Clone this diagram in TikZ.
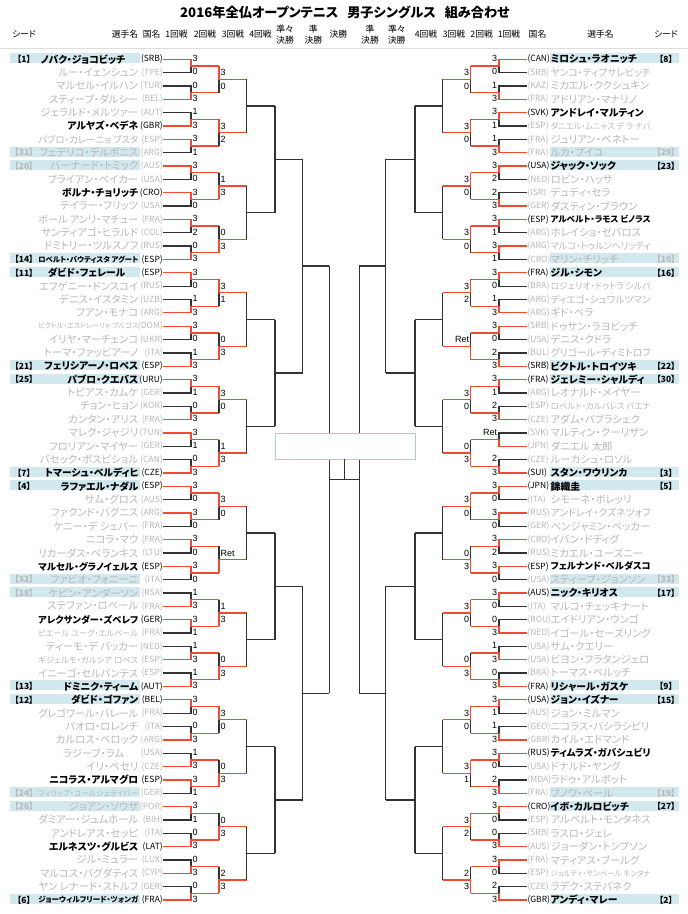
\documentclass[tikz,border=0pt]{standalone}
\usepackage{fontspec}
\usepackage{graphicx}
\setmainfont{Noto Sans CJK JP}[RawFeature=+palt]
\newfontfamily\numfont{Liberation Sans}
\definecolor{winc}{HTML}{F04B30}
\definecolor{losec}{HTML}{333333}
\definecolor{grayt}{HTML}{B7B7B7}
\definecolor{seedbg}{HTML}{D2E8EF}
\definecolor{rectc}{HTML}{A8CBEA}
\definecolor{sepc}{HTML}{DDDDDD}
\newsavebox\nmbox
\newcommand\fitname[1]{\sbox\nmbox{#1}\ifdim\wd\nmbox>100pt\resizebox{100pt}{!}{\usebox\nmbox}\else\usebox\nmbox\fi}
\tikzset{
  win/.style={draw=winc, line width=1.3pt},
  lose/.style={draw=losec, line width=1.3pt},
  nm/.style={inner sep=0pt},
  nmb/.style={text=black, font=\fontsize{9.8}{11}\selectfont\bfseries},
  nmg/.style={text=grayt, font=\fontsize{10.4}{11}\selectfont},
  ccode/.style={inner sep=0pt, font=\fontsize{8.5}{9}\selectfont},
  ccb/.style={text=black},
  ccg/.style={text=grayt},
  seedt/.style={inner sep=0pt, font=\fontsize{8.5}{9}\selectfont\bfseries},
  scr/.style={inner sep=0pt, font=\numfont\fontsize{9}{10}\selectfont},
  hdr/.style={inner sep=0pt, font=\fontsize{8.8}{10}\selectfont},
  hdrtwo/.style={inner sep=0pt, align=center, font=\fontsize{8.8}{11}\selectfont},
}
\newcommand\Yr[1]{\pgfmathsetmacro\yy{59.3+13.344*(#1)}}
\newcommand\Lrow[6]{%
  \Yr{#1}%
  \if\relax\detokenize{#2}\relax\else
    \fill[seedbg] (10,\yy-6) rectangle (140,\yy+4);
    \node[seedt,cc#6] (L#1d) at (24,\yy) {#2};
  \fi
  \node[nm,nm#6,anchor=east] (L#1n) at (138.5,\yy) {\fitname{#3}};
  \node[ccode,cc#6,anchor=east] (L#1c) at (163,\yy) {(#4)};
  \if\relax\detokenize{#5}\relax\else
    \node[scr,anchor=west] (L#1s) at (192.4,\yy-0.8) {#5};
  \fi
}
\newcommand\Rrow[6]{%
  \Yr{#1}%
  \if\relax\detokenize{#2}\relax\else
    \fill[seedbg] (549.5,\yy-6) rectangle (679,\yy+4);
    \node[seedt,cc#6] (R#1d) at (666,\yy) {#2};
  \fi
  \node[ccode,cc#6,anchor=west] (R#1c) at (527.3,\yy) {(#4)};
  \node[nm,nm#6,anchor=west] (R#1n) at (550.5,\yy) {\fitname{#3}};
  \if\relax\detokenize{#5}\relax\else
    \node[scr,anchor=east] (R#1s) at (497.4,\yy-0.8) {#5};
  \fi
}
\newcommand\Ltwo[2]{\Yr{#1}\node[scr,anchor=west] (L#1t) at (220.4,\yy) {#2};}
\newcommand\Rtwo[2]{\Yr{#1}\node[scr,anchor=east] (R#1t) at (469.4,\yy) {#2};}
\def\LA{{0,1,1,0,0,0,0,1,0,1,0,1,0,1,0,1,0,0,0,0,1,0,1,1,0,1,1,0,0,1,1,1}}
\def\LB{{0,0,1,1,0,1,0,1,0,1,1,1,0,1,1,1}}
\def\RA{{0,1,0,1,0,1,0,0,0,1,0,1,0,1,1,1,0,0,0,0,0,1,1,1,0,1,0,1,0,1,0,1}}
\def\RB{{0,0,0,0,0,1,0,1,0,1,0,1,0,0,0,1}}
\newcommand\Side[9]{%
  \foreach \k in {0,...,31}{%
    \pgfmathsetmacro\ya{59.3+13.344*(2*\k)}%
    \pgfmathsetmacro\yb{\ya+13.344}%
    \pgfmathsetmacro\ym{\ya+6.672}%
    \pgfmathtruncatemacro\w{#8[\k]}%
    \ifnum\w=0
      \draw[lose] (#1,\yb) -| (#2,\ym);
      \draw[win] (#1,\ya) -| (#2,\ym) -- (#3,\ym);
    \else
      \draw[lose] (#1,\ya) -| (#2,\ym);
      \draw[win] (#1,\yb) -| (#2,\ym) -- (#3,\ym);
    \fi
  }
  \foreach \j in {0,...,15}{%
    \pgfmathsetmacro\ya{59.3+13.344*(4*\j+0.5)}%
    \pgfmathsetmacro\yb{\ya+26.688}%
    \pgfmathsetmacro\ym{\ya+13.344}%
    \pgfmathtruncatemacro\w{#9[\j]}%
    \ifnum\w=0
      \draw[lose] (#3,\yb) -- (#3,\ym);
      \draw[win] (#3,\ya) -- (#3,\ym) -- (#4,\ym);
    \else
      \draw[lose] (#3,\ya) -- (#3,\ym);
      \draw[win] (#3,\yb) -- (#3,\ym) -- (#4,\ym);
    \fi
  }
  \foreach \g in {0,...,7}{%
    \pgfmathsetmacro\ya{59.3+13.344*(8*\g+1.5)}%
    \pgfmathsetmacro\ym{\ya+26.688}%
    \draw[lose] (#4,\ya) -- (#4,\ya+53.376);
    \draw[lose] (#4,\ym) -- (#5,\ym);
  }
  \foreach \g in {0,...,3}{%
    \pgfmathsetmacro\ya{59.3+13.344*(16*\g+3.5)}%
    \pgfmathsetmacro\ym{\ya+53.376}%
    \draw[lose] (#5,\ya) -- (#5,\ya+106.752);
    \draw[lose] (#5,\ym) -- (#6,\ym);
  }
  \foreach \g in {0,1}{%
    \pgfmathsetmacro\ya{59.3+13.344*(32*\g+7.5)}%
    \pgfmathsetmacro\ym{\ya+106.752}%
    \draw[lose] (#6,\ya) -- (#6,\ya+213.504);
    \draw[lose] (#6,\ym) -- (#7,\ym);
  }
  \draw[lose] (#7,266.132) -- (#7,693.14);
}
\begin{document}
\begin{tikzpicture}[x=1pt,y=-1pt]
\useasboundingbox (0,0) rectangle (688,914);
% title and header
\node[font=\bfseries\fontsize{13.2}{15}\selectfont, inner sep=0pt] (title) at (345,12) {2016年全仏オープンテニス\hspace{9pt}男子シングルス\hspace{9pt}組み合わせ};
\node[hdr] (hL1) at (24,34) {シード};
\node[hdr] (hL2) at (125,34) {選手名};
\node[hdr] (hL3) at (151.7,34) {国名};
\node[hdr] (hL4) at (176.5,34) {1回戦};
\node[hdr] (hL5) at (205,34) {2回戦};
\node[hdr] (hL6) at (233,34) {3回戦};
\node[hdr] (hL7) at (260.5,34) {4回戦};
\node[hdrtwo] (hL8) at (285,34.5) {準々\\決勝};
\node[hdrtwo] (hL9) at (313.3,34.5) {準\\決勝};
\node[hdr] (hF) at (338.3,34) {決勝};
\node[hdrtwo] (hR9) at (370,34.5) {準\\決勝};
\node[hdrtwo] (hR8) at (396.7,34.5) {準々\\決勝};
\node[hdr] (hR7) at (426,34) {4回戦};
\node[hdr] (hR6) at (454,34) {3回戦};
\node[hdr] (hR5) at (481.7,34) {2回戦};
\node[hdr] (hR4) at (509,34) {1回戦};
\node[hdr] (hR3) at (537.5,34) {国名};
\node[hdr] (hR2) at (600.5,34) {選手名};
\node[hdr] (hR1) at (666,34) {シード};
\coordinate (sepA) at (0,48.3);
\coordinate (sepB) at (688,48.3);
\draw[draw=sepc, line width=1.5pt] (sepA) -- (sepB);
% bracket lines
\Side{163}{191}{219}{246.7}{275}{302.7}{329.3}{\LA}{\LB}
\Side{527}{499}{470.7}{442.7}{415}{385.7}{359.3}{\RA}{\RB}
\coordinate (finL) at (329.3,479.64);
\coordinate (finR) at (359.3,479.64);
\coordinate (finM) at (344.3,479.64);
\draw[lose] (finL) -- (finR);
\node[draw=rectc, fill=white, line width=0.9pt, minimum width=140pt, minimum height=26pt, inner sep=0pt] (champ) at (345,446) {};
\draw[lose] (finM) -- (champ.south -| finM);
% left side
\Lrow{0}{【1】}{ノバク・ジョコビッチ\hspace{13pt}}{SRB}{3}{b}
\Lrow{1}{}{ルー・イェンシュン}{TPE}{0}{g}
\Lrow{2}{}{マルセル・イルハン}{TUR}{0}{g}
\Lrow{3}{}{スティーブ・ダルシー}{BEL}{3}{g}
\Lrow{4}{}{ジェラルド・メルツァー}{AUT}{1}{g}
\Lrow{5}{}{アルヤズ・ベデネ}{GBR}{3}{b}
\Lrow{6}{}{パブロ・カレーニョ ブスタ}{ESP}{3}{g}
\Lrow{7}{【31】}{フェデリコ・デルボニス}{ARG}{1}{g}
\Lrow{8}{【20】}{バーナード・トミック}{AUS}{3}{g}
\Lrow{9}{}{ブライアン・ベイカー}{USA}{0}{g}
\Lrow{10}{}{ボルナ・チョリッチ}{CRO}{3}{b}
\Lrow{11}{}{テイラー・フリッツ}{USA}{0}{g}
\Lrow{12}{}{ポール アンリ・マチュー}{FRA}{3}{g}
\Lrow{13}{}{サンティアゴ・ヒラルド}{COL}{2}{g}
\Lrow{14}{}{ドミトリー・ツルスノフ}{RUS}{0}{g}
\Lrow{15}{【14】}{ロベルト・バウティスタ アグート}{ESP}{3}{b}
\Lrow{16}{【11】}{ダビド・フェレール\hspace{13pt}}{ESP}{3}{b}
\Lrow{17}{}{エフゲニー・ドンスコイ}{RUS}{0}{g}
\Lrow{18}{}{デニス・イスタミン}{UZB}{1}{g}
\Lrow{19}{}{フアン・モナコ}{ARG}{3}{g}
\Lrow{20}{}{ビクトル・エストレーリャ ブルゴス}{DOM}{3}{g}
\Lrow{21}{}{イリヤ・マーチェンコ}{UKR}{0}{g}
\Lrow{22}{}{トーマ・ファッビアーノ}{ITA}{1}{g}
\Lrow{23}{【21】}{フェリシアーノ・ロペス}{ESP}{3}{b}
\Lrow{24}{【25】}{パブロ・クエバス}{URU}{3}{b}
\Lrow{25}{}{トビアス・カムケ}{GER}{1}{g}
\Lrow{26}{}{チョン・ヒョン}{KOR}{0}{g}
\Lrow{27}{}{カンタン・アリス}{FRA}{3}{g}
\Lrow{28}{}{マレク・ジャジリ}{TUN}{3}{g}
\Lrow{29}{}{フロリアン・マイヤー}{GER}{1}{g}
\Lrow{30}{}{バセック・ポスピショル}{CAN}{0}{g}
\Lrow{31}{【7】}{トマーシュ・ベルディヒ}{CZE}{3}{b}
\Lrow{32}{【4】}{ラファエル・ナダル}{ESP}{3}{b}
\Lrow{33}{}{サム・グロス}{AUS}{0}{g}
\Lrow{34}{}{ファクンド・バグニス}{ARG}{3}{g}
\Lrow{35}{}{ケニー・デ シェパー}{FRA}{0}{g}
\Lrow{36}{}{ニコラ・マウ}{FRA}{3}{g}
\Lrow{37}{}{リカーダス・ベランキス}{LTU}{0}{g}
\Lrow{38}{}{マルセル・グラノイェルス}{ESP}{3}{b}
\Lrow{39}{【32】}{ファビオ・フォニーニ}{ITA}{0}{g}
\Lrow{40}{【18】}{ケビン・アンダーソン}{RSA}{1}{g}
\Lrow{41}{}{ステファン・ロベール}{FRA}{3}{g}
\Lrow{42}{}{アレクサンダー・ズベレフ}{GER}{3}{b}
\Lrow{43}{}{ピエール ユーグ・エルベール}{FRA}{1}{g}
\Lrow{44}{}{ティーモ・デ バッカー}{NED}{1}{g}
\Lrow{45}{}{ギジェルモ・ガルシア ロペス}{ESP}{3}{g}
\Lrow{46}{}{イニーゴ・セルバンテス}{ESP}{1}{g}
\Lrow{47}{【13】}{ドミニク・ティーム}{AUT}{3}{b}
\Lrow{48}{【12】}{ダビド・ゴファン}{BEL}{3}{b}
\Lrow{49}{}{グレゴワール・バレール}{FRA}{0}{g}
\Lrow{50}{}{パオロ・ロレンチ}{ITA}{0}{g}
\Lrow{51}{}{カルロス・ベロック}{ARG}{3}{g}
\Lrow{52}{}{ラジーブ・ラム\hspace{14pt}}{USA}{1}{g}
\Lrow{53}{}{イリ・ベセリ}{CZE}{3}{g}
\Lrow{54}{}{ニコラス・アルマグロ}{ESP}{3}{b}
\Lrow{55}{【24】}{フィリップ・コールシュライバー}{GER}{1}{g}
\Lrow{56}{【26】}{ジョアン・ソウザ}{POR}{3}{g}
\Lrow{57}{}{ダミアー・ジュムホール}{BIH}{1}{g}
\Lrow{58}{}{アンドレアス・セッピ}{ITA}{0}{g}
\Lrow{59}{}{エルネスツ・グルビス}{LAT}{3}{b}
\Lrow{60}{}{ジル・ミュラー}{LUX}{0}{g}
\Lrow{61}{}{マルコス・バグダティス}{CYP}{3}{g}
\Lrow{62}{}{ヤン レナード・ストルフ}{GER}{0}{g}
\Lrow{63}{【6】}{ジョーウィルフリード・ツォンガ}{FRA}{3}{b}
\Ltwo{1}{3}\Ltwo{2}{0}\Ltwo{5}{3}\Ltwo{6}{2}\Ltwo{9}{1}\Ltwo{10}{3}\Ltwo{13}{0}\Ltwo{14}{3}
\Ltwo{17}{3}\Ltwo{18}{1}\Ltwo{21}{0}\Ltwo{22}{3}\Ltwo{25}{3}\Ltwo{26}{0}\Ltwo{29}{1}\Ltwo{30}{3}
\Ltwo{33}{3}\Ltwo{34}{0}\Ltwo{37}{Ret}\Ltwo{41}{1}\Ltwo{42}{3}\Ltwo{45}{0}\Ltwo{46}{3}
\Ltwo{49}{3}\Ltwo{50}{0}\Ltwo{53}{0}\Ltwo{54}{3}\Ltwo{57}{0}\Ltwo{58}{3}\Ltwo{61}{2}\Ltwo{62}{3}
% right side
\Rrow{0}{【8】}{ミロシュ・ラオニッチ}{CAN}{3}{b}
\Rrow{1}{}{ヤンコ・ティプサレビッチ}{SRB}{0}{g}
\Rrow{2}{}{ミカエル・ククシュキン}{KAZ}{1}{g}
\Rrow{3}{}{アドリアン・マナリノ}{FRA}{3}{g}
\Rrow{4}{}{アンドレイ・マルティン}{SVK}{3}{b}
\Rrow{5}{}{ダニエル・ムニャス デ ラ ナバ}{ESP}{1}{g}
\Rrow{6}{}{ジュリアン・ベネトー}{FRA}{1}{g}
\Rrow{7}{【29】}{ルカ・プイユ}{FRA}{3}{g}
\Rrow{8}{【23】}{ジャック・ソック}{USA}{3}{b}
\Rrow{9}{}{ロビン・ハッサ}{NED}{2}{g}
\Rrow{10}{}{デュディ・セラ}{ISR}{2}{g}
\Rrow{11}{}{ダスティン・ブラウン}{GER}{3}{g}
\Rrow{12}{}{アルベルト・ラモス ビノラス}{ESP}{3}{b}
\Rrow{13}{}{ホレイショ・ゼバロス}{ARG}{1}{g}
\Rrow{14}{}{マルコ・トゥルンヘリッティ}{ARG}{3}{g}
\Rrow{15}{【10】}{マリン・チリッチ}{CRO}{1}{g}
\Rrow{16}{【16】}{ジル・シモン}{FRA}{3}{b}
\Rrow{17}{}{ロジェリオ・ドゥトラ シルバ}{BRA}{0}{g}
\Rrow{18}{}{ディエゴ・シュワルツマン}{ARG}{1}{g}
\Rrow{19}{}{ギド・ペラ}{ARG}{3}{g}
\Rrow{20}{}{ドゥサン・ラヨビッチ}{SRB}{3}{g}
\Rrow{21}{}{デニス・クドラ}{USA}{0}{g}
\Rrow{22}{}{グリゴール・ディミトロフ}{BUL}{2}{g}
\Rrow{23}{【22】}{ビクトル・トロイツキ}{SRB}{3}{b}
\Rrow{24}{【30】}{ジェレミー・シャルディ}{FRA}{3}{b}
\Rrow{25}{}{レオナルド・メイヤー}{ARG}{1}{g}
\Rrow{26}{}{ロベルト・カルバレス バエナ}{ESP}{2}{g}
\Rrow{27}{}{アダム・パブラシェク}{CZE}{3}{g}
\Rrow{28}{}{マルティン・クーリザン}{SVK}{Ret}{g}
\Rrow{29}{}{ダニエル 太郎}{JPN}{}{g}
\Rrow{30}{}{ルーカシュ・ロソル}{CZE}{2}{g}
\Rrow{31}{【3】}{スタン・ワウリンカ}{SUI}{3}{b}
\Rrow{32}{【5】}{錦織圭}{JPN}{3}{b}
\Rrow{33}{}{シモーネ・ボレッリ}{ITA}{0}{g}
\Rrow{34}{}{アンドレイ・クズネツォフ}{RUS}{3}{g}
\Rrow{35}{}{ベンジャミン・ベッカー}{GER}{0}{g}
\Rrow{36}{}{イバン・ドディグ}{CRO}{3}{g}
\Rrow{37}{}{ミカエル・ユーズニー}{RUS}{2}{g}
\Rrow{38}{}{フェルナンド・ベルダスコ}{ESP}{3}{b}
\Rrow{39}{【33】}{スティーブ・ジョンソン}{USA}{0}{g}
\Rrow{40}{【17】}{ニック・キリオス}{AUS}{3}{b}
\Rrow{41}{}{マルコ・チェッキナート}{ITA}{0}{g}
\Rrow{42}{}{エイドリアン・ウンゴ}{ROU}{0}{g}
\Rrow{43}{}{イゴール・セーズリング}{NED}{3}{g}
\Rrow{44}{}{サム・クエリー}{USA}{1}{g}
\Rrow{45}{}{ビヨン・フラタンジェロ}{USA}{3}{g}
\Rrow{46}{}{トーマス・ベルッチ}{BRA}{0}{g}
\Rrow{47}{【9】}{リシャール・ガスケ}{FRA}{3}{b}
\Rrow{48}{【15】}{ジョン・イズナー}{USA}{3}{b}
\Rrow{49}{}{ジョン・ミルマン}{AUS}{1}{g}
\Rrow{50}{}{ニコラス・バシラシビリ}{GEO}{1}{g}
\Rrow{51}{}{カイル・エドマンド}{GBR}{3}{g}
\Rrow{52}{}{ティムラズ・ガバシュビリ}{RUS}{3}{b}
\Rrow{53}{}{ドナルド・ヤング}{USA}{0}{g}
\Rrow{54}{}{ラドゥ・アルボット}{MDA}{2}{g}
\Rrow{55}{【19】}{ブノワ・ペール}{FRA}{3}{g}
\Rrow{56}{【27】}{イボ・カルロビッチ}{CRO}{3}{b}
\Rrow{57}{}{アルベルト・モンタネス}{ESP}{0}{g}
\Rrow{58}{}{ラスロ・ジェレ}{SRB}{0}{g}
\Rrow{59}{}{ジョーダン・トンプソン}{AUS}{3}{g}
\Rrow{60}{}{マティアス・ブールグ}{FRA}{3}{g}
\Rrow{61}{}{ジョルディ・サンペール モンタナ}{ESP}{0}{g}
\Rrow{62}{}{ラデク・ステパネク}{CZE}{2}{g}
\Rrow{63}{【2】}{アンディ・マレー}{GBR}{3}{b}
\Rtwo{1}{3}\Rtwo{2}{0}\Rtwo{5}{3}\Rtwo{6}{0}\Rtwo{9}{3}\Rtwo{10}{0}\Rtwo{13}{3}\Rtwo{14}{0}
\Rtwo{17}{3}\Rtwo{18}{2}\Rtwo{21}{Ret}\Rtwo{25}{3}\Rtwo{26}{0}\Rtwo{29}{0}\Rtwo{30}{3}
\Rtwo{33}{3}\Rtwo{34}{0}\Rtwo{37}{0}\Rtwo{38}{3}\Rtwo{41}{3}\Rtwo{42}{0}\Rtwo{45}{0}\Rtwo{46}{3}
\Rtwo{49}{3}\Rtwo{50}{0}\Rtwo{53}{3}\Rtwo{54}{1}\Rtwo{57}{3}\Rtwo{58}{2}\Rtwo{61}{2}\Rtwo{62}{3}
\end{tikzpicture}
\end{document}
